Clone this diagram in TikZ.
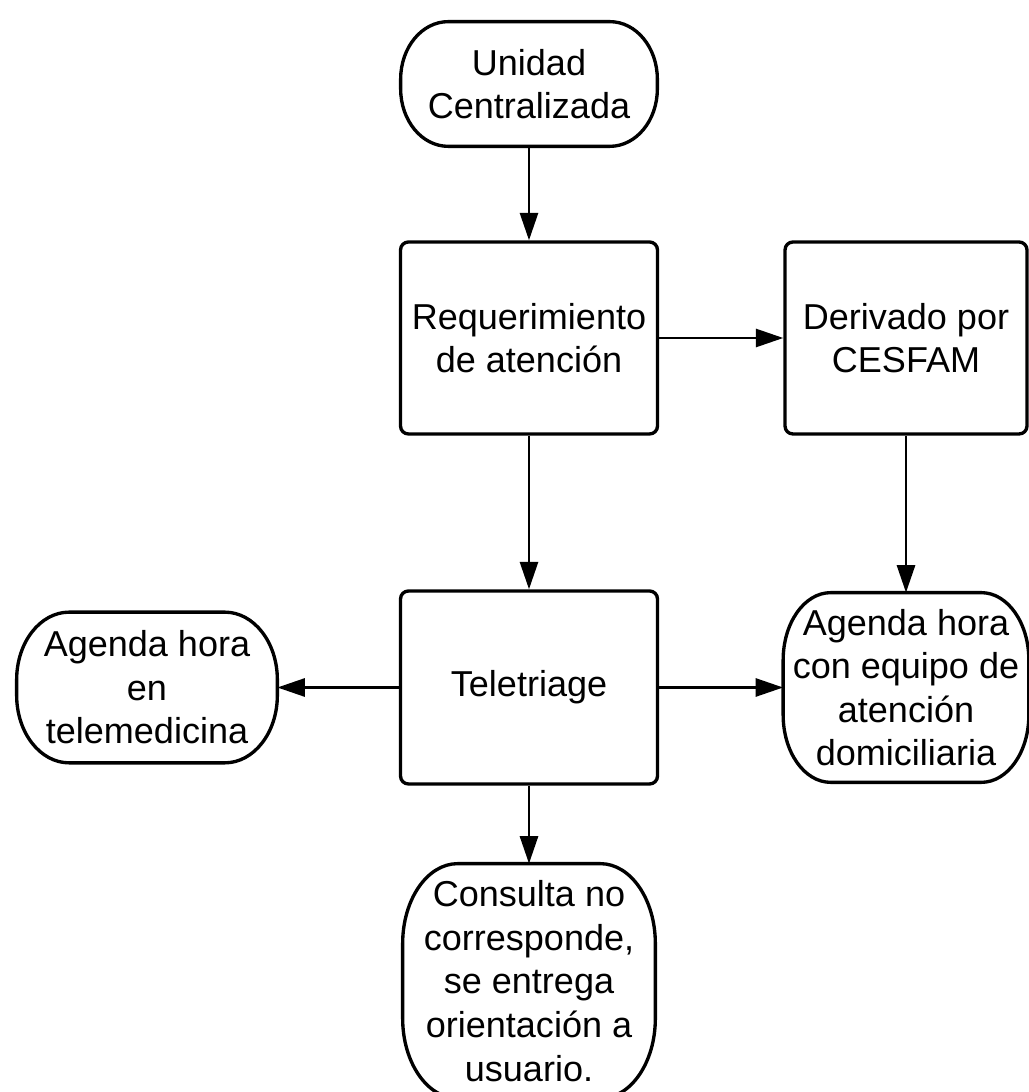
\documentclass[tikz,border=0pt]{standalone}
\usepackage{fontspec}
\setmainfont{Liberation Sans}
\usetikzlibrary{arrows.meta,calc}
\tikzset{
  txt/.style={align=center, inner sep=0pt, font=\fontsize{20.5pt}{24.8pt}\selectfont},
  procbox/.style={txt, draw=black, line width=1.9pt, rounded corners=0.16cm},
  termnode/.style={txt},
  termline/.style={draw=black, line width=1.9pt},
  conn/.style={line width=1.6pt, -{Triangle[length=0.55cm,width=0.36cm]}}
}
\newcommand{\termshape}[3]{%
  \draw[termline] ($(#1.north west)+(#2,0)$) -- ($(#1.north east)-(#2,0)$)
   arc[start angle=90,end angle=0,x radius=#2,y radius=#3] -- ($(#1.south east)+(0,#3)$)
   arc[start angle=0,end angle=-90,x radius=#2,y radius=#3] -- ($(#1.south west)+(#2,0)$)
   arc[start angle=270,end angle=180,x radius=#2,y radius=#3] -- ($(#1.north west)-(0,#3)$)
   arc[start angle=180,end angle=90,x radius=#2,y radius=#3] -- cycle;}
\begin{document}
\begin{tikzpicture}
\useasboundingbox[fill=white] (0,0) rectangle (20.58,21.84);
\clip (0,0) rectangle (20.58,21.84);
\node[termnode, minimum width=5.12cm, minimum height=2.48cm] (uni) at (10.58,20.16) {Unidad\\Centralizada};
\node[procbox, minimum width=5.14cm, minimum height=3.84cm] (req) at (10.58,15.08) {Requerimiento\\de atención};
\node[procbox, minimum width=4.84cm, minimum height=3.84cm] (der) at (18.12,15.08) {Derivado por\\CESFAM};
\node[procbox, minimum width=5.14cm, minimum height=3.86cm] (tele) at (10.58,8.09) {Teletriage};
\node[termnode, minimum width=5.2cm, minimum height=3.0cm] (med) at (2.94,8.09) {Agenda hora\\en\\telemedicina};
\node[termnode, minimum width=4.9cm, minimum height=3.78cm] (dom) at (18.12,8.09) {Agenda hora\\con equipo de\\atención\\domiciliaria};
\node[termnode, minimum width=5.04cm, minimum height=4.68cm] (con) at (10.58,2.22) {Consulta no\\corresponde,\\se entrega\\orientación a\\usuario.};
\termshape{uni}{0.95cm}{1.15cm}
\termshape{med}{1.05cm}{1.35cm}
\termshape{dom}{0.95cm}{1.35cm}
\termshape{con}{1.1cm}{1.6cm}
\draw[conn] (uni.south) -- (req.north);
\draw[conn] (req.east) -- (der.west);
\draw[conn] (req.south) -- (tele.north);
\draw[conn] (der.south) -- (dom.north);
\draw[conn] (tele.west) -- (med.east);
\draw[conn] (tele.east) -- (dom.west);
\draw[conn] (tele.south) -- (con.north);
\end{tikzpicture}
\end{document}
